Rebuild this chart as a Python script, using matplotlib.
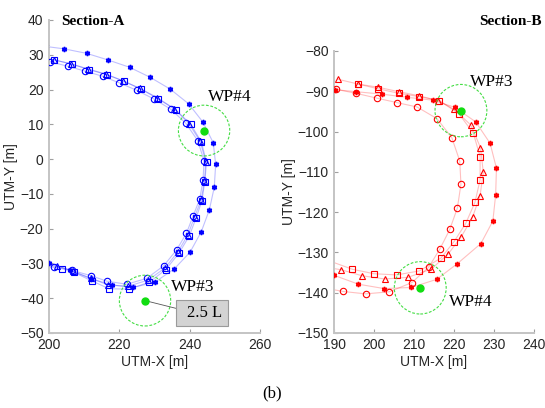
import matplotlib
matplotlib.use("Agg")
import matplotlib.pyplot as plt
from matplotlib.patches import Circle, Rectangle

# ---- Section-A (left) trajectories ----
a_star_x = [199.0, 204.3, 210.7, 216.8, 222.9, 228.8, 234.5, 239.7, 243.8, 246.7, 247.4, 247.0,
            245.6, 243.3, 240.1, 235.6, 230.1, 224.0, 217.9, 211.9, 206.0, 200.1]
a_star_y = [32.4, 31.7, 30.4, 28.5, 26.4, 23.5, 20.1, 15.9, 10.6, 4.7, -1.5, -8.1,
            -14.6, -20.9, -26.8, -31.6, -35.4, -36.9, -36.2, -34.4, -32.0, -29.9]

a_circ_x = [200.3, 205.3, 210.2, 215.3, 220.0, 224.9, 229.8, 234.7, 238.9, 242.3, 244.1, 243.8, 242.9,
            241.0, 239.1, 236.3, 232.6, 227.8, 222.1, 216.4, 211.8, 206.5, 201.5, 198.5]
a_circ_y = [28.0, 26.7, 25.3, 23.8, 21.9, 19.8, 17.3, 14.3, 10.3, 5.3, -0.5, -6.0, -11.4,
            -16.3, -21.3, -26.1, -30.7, -34.3, -36.0, -35.1, -33.5, -32.0, -30.9, -30.4]

a_tri_x = [201.3, 206.3, 211.2, 216.3, 221.0, 225.9, 230.7, 235.6, 239.8, 243.0, 244.6, 244.2, 243.3,
           241.4, 239.5, 236.7, 233.0, 228.2, 222.4, 216.7, 212.0, 206.9, 202.4, 198.5]
a_tri_y = [28.6, 27.3, 25.9, 24.4, 22.5, 20.3, 17.7, 14.5, 10.2, 5.1, -0.8, -6.3, -11.7,
           -16.6, -21.8, -26.6, -31.3, -34.8, -36.6, -36.2, -34.3, -32.3, -30.7, -30.0]

a_sq_x = [201.5, 206.4, 211.4, 216.4, 221.3, 226.2, 231.1, 236.1, 240.3, 243.3, 244.8, 244.3, 243.5,
          241.8, 239.9, 237.0, 233.2, 228.5, 222.8, 217.1, 212.3, 207.1, 203.6, 198.5]
a_sq_y = [28.5, 27.4, 25.7, 24.3, 22.4, 20.1, 17.3, 14.1, 10.0, 5.0, -0.9, -6.5, -12.0,
          -17.0, -22.1, -27.0, -31.8, -35.4, -37.4, -37.3, -35.1, -32.6, -31.5, -30.8]

# ---- Section-B (right) trajectories ----
b_star_x = [190.3, 195.4, 201.9, 208.3, 214.7, 220.3, 225.5, 229.1, 230.7, 230.5, 229.8, 226.8,
            220.9, 215.7, 209.4, 202.6, 196.1, 190.0, 188.0]
b_star_y = [-89.6, -90.1, -90.7, -91.5, -92.2, -94.0, -97.6, -102.9, -109.1, -115.7, -122.2, -127.8,
            -132.8, -136.7, -138.7, -139.0, -137.9, -135.7, -135.0]

b_circ_x = [190.4, 195.5, 200.7, 205.7, 210.8, 215.8, 219.5, 221.5, 221.8, 220.9, 219.0, 216.5,
            213.7, 209.5, 203.8, 197.9, 192.2, 188.5]
b_circ_y = [-89.5, -90.5, -91.7, -92.8, -93.9, -96.8, -101.5, -107.3, -113.1, -119.0, -124.3, -129.2,
            -133.7, -137.5, -139.8, -140.3, -139.7, -139.0]

b_tri_x = [190.9, 196.0, 201.1, 206.2, 211.2, 216.0, 220.1, 224.3, 226.7, 227.4, 226.6, 224.7, 221.9,
           218.6, 214.3, 208.5, 202.7, 197.0, 191.7, 188.5]
b_tri_y = [-87.0, -88.2, -89.0, -90.1, -91.1, -92.3, -94.5, -98.4, -104.0, -110.1, -115.9, -121.3, -126.1,
           -130.4, -134.2, -136.2, -136.6, -135.8, -134.3, -133.8]

b_sq_x = [196.0, 201.1, 206.2, 211.2, 216.4, 221.3, 224.9, 226.6, 226.6, 225.3, 223.0, 220.1,
          216.8, 211.4, 205.7, 200.0, 194.6, 188.5]
b_sq_y = [-88.2, -89.4, -90.5, -91.3, -92.3, -95.6, -100.4, -106.2, -112.0, -117.6, -122.8, -127.3,
          -131.4, -134.6, -135.6, -135.3, -134.2, -132.0]

# waypoints (x, y, radius, label)
a_wp = [(244.1, 8.2, 7.3, 'WP#4'), (227.3, -40.7, 7.3, 'WP#3')]
b_wp = [(221.8, -94.8, 6.5, 'WP#3'), (211.6, -138.8, 6.5, 'WP#4')]

serif = 'Liberation Serif'
sans = 'Liberation Sans'

fig = plt.figure(figsize=(5.45, 4.08), dpi=100)
ax1 = fig.add_axes([0.090, 0.184, 0.387, 0.767])
ax2 = fig.add_axes([0.613, 0.184, 0.366, 0.691])


def draw_series(ax, col, data):
    for xs, ys, mk in data:
        ax.plot(xs, ys, color=col, alpha=0.25, lw=0.8, zorder=2)
        if mk == 'star':
            ax.plot(xs, ys, ls='none', marker=(6, 2, 0), ms=3.8, mew=1.1,
                    color=col, zorder=3)
        else:
            ax.plot(xs, ys, ls='none', marker=mk, ms=4.6, mew=0.8,
                    mfc='none', mec=col, zorder=3)


draw_series(ax1, '#0000ff', [(a_star_x, a_star_y, 'star'), (a_circ_x, a_circ_y, 'o'),
                             (a_tri_x, a_tri_y, '^'), (a_sq_x, a_sq_y, 's')])
draw_series(ax2, '#ff0000', [(b_star_x, b_star_y, 'star'), (b_circ_x, b_circ_y, 'o'),
                             (b_tri_x, b_tri_y, '^'), (b_sq_x, b_sq_y, 's')])

for ax, wps in ((ax1, a_wp), (ax2, b_wp)):
    for x, y, r, lab in wps:
        ax.add_patch(Circle((x, y), r, fill=False, ec='#44dd44', lw=0.8,
                            ls=(0, (2.5, 1.5)), zorder=4))
        ax.plot([x], [y], 'o', color='#11dd11', ms=5, zorder=5)

# waypoint labels
ax1.text(245.1, 16.7, 'WP#4', family=serif, fontsize=12.5)
ax1.text(234.7, -37.8, 'WP#3', family=serif, fontsize=12.5)
ax2.text(224.1, -88.7, 'WP#3', family=serif, fontsize=12.5)
ax2.text(218.9, -143.4, 'WP#4', family=serif, fontsize=12.5)

# 2.5 L annotation
ax1.plot([227.3, 236.0], [-40.7, -42.9], color='#555555', lw=0.6, zorder=4)
ax1.add_patch(Rectangle((236.1, -47.9), 14.8, 7.4, fc='#d3d3d3', ec='#9a9a9a', lw=0.8, zorder=4))
ax1.text(244.2, -44.2, '2.5 L', family=serif, fontsize=12, ha='center', va='center', zorder=5)

ax1.set_xlim(200, 260)
ax1.set_ylim(-50, 40)
ax1.set_xticks([200, 220, 240, 260])
ax1.set_yticks(range(-50, 41, 10))
ax2.set_xlim(190, 240)
ax2.set_ylim(-150, -80)
ax2.set_xticks(range(190, 241, 10))
ax2.set_yticks(range(-150, -79, 10))

for ax in (ax1, ax2):
    for s in ('top', 'right'):
        ax.spines[s].set_visible(False)
    for s in ('left', 'bottom'):
        ax.spines[s].set_color('#c4c4c4')
        ax.spines[s].set_linewidth(1.4)
    ax.tick_params(direction='in', length=3, width=0.8, color='#a0a0a0',
                   labelsize=10, labelcolor='#262626', pad=4)
    for lbl in ax.get_xticklabels() + ax.get_yticklabels():
        lbl.set_family(sans)
    ax.set_xlabel('UTM-X [m]', family=sans, fontsize=10, color='#262626', labelpad=2)
    ax.set_ylabel('UTM-Y [m]', family=sans, fontsize=10, color='#262626', labelpad=1)

ax1.text(0.057, 0.984, 'Section-A', transform=ax1.transAxes, family=serif,
         fontweight='bold', fontsize=11, va='baseline')
ax2.text(0.726, 1.092, 'Section-B', transform=ax2.transAxes, family=serif,
         fontweight='bold', fontsize=11, va='baseline')

fig.text(0.499, 0.025, '(b)', family=serif, fontsize=12, ha='center', va='baseline')

fig.savefig('out.png', dpi=100)
